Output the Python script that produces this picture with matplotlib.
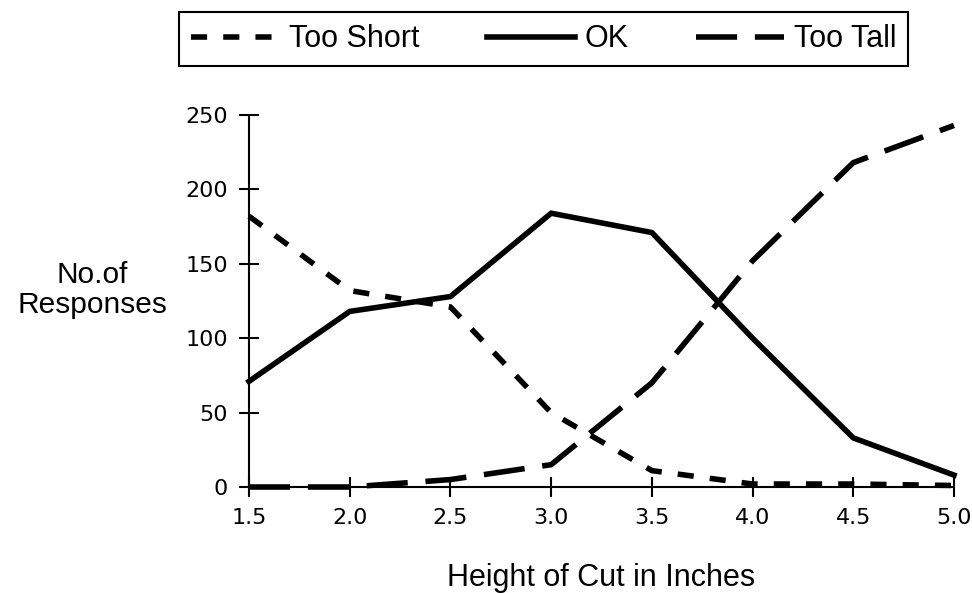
import matplotlib
matplotlib.use("Agg")
import matplotlib.pyplot as plt
from matplotlib.ticker import FormatStrFormatter

# data
heights   = [1.5, 2.0, 2.5, 3.0, 3.5, 4.0, 4.5, 5.0]
too_short = [182, 132, 121, 50, 11, 2, 2, 1]
ok        = [71, 118, 128, 184, 171, 100, 33, 8]
too_tall  = [0, 0, 5, 15, 70, 152, 218, 243]
yticks    = [0, 50, 100, 150, 200, 250]

plt.rcParams['font.family'] = ['Liberation Sans', 'DejaVu Sans']

fig = plt.figure(figsize=(9.72, 5.93), dpi=100)
ax = fig.add_axes([249/972, 1-487/593, (954-249)/972, (487-115)/593])

lw = 4.0
ax.plot(heights, too_short, color="black", lw=lw, dashes=(2.9, 2.9),
        dash_capstyle="butt", clip_on=False, label="Too Short")
ax.plot(heights, ok, color="black", lw=lw, solid_joinstyle="miter",
        clip_on=False, label="OK")
ax.plot(heights, too_tall, color="black", lw=lw, dashes=(7.4, 3.2),
        dash_capstyle="butt", clip_on=False, label="Too Tall")

ax.set_xlim(1.5, 5.0)
ax.set_ylim(0, 250)
ax.set_xticks(heights)
ax.set_yticks(yticks)
ax.xaxis.set_major_formatter(FormatStrFormatter('%.1f'))

for s in ["top", "right"]:
    ax.spines[s].set_visible(False)
for s in ["left", "bottom"]:
    ax.spines[s].set_linewidth(1.5)

ax.tick_params(direction="inout", length=14, width=1.5, pad=8,
               labelsize=16, labelfontfamily="DejaVu Sans")

ax.set_xlabel("Height of Cut in Inches", fontsize=22, labelpad=25)
fig.text(92/972, 1-290/593, "No.of\nResponses", fontsize=21.5,
         ha="center", va="center", linespacing=1.05)

leg = fig.legend(loc="upper left", bbox_to_anchor=(179/972, 1-12/593),
                 ncol=3, fontsize=22, handlelength=2.9, handletextpad=0.3,
                 columnspacing=2.2, borderpad=0.4, borderaxespad=0,
                 fancybox=False, framealpha=1, edgecolor="black")
leg.get_frame().set_linewidth(1.5)

fig.savefig("out.png", dpi=100)
